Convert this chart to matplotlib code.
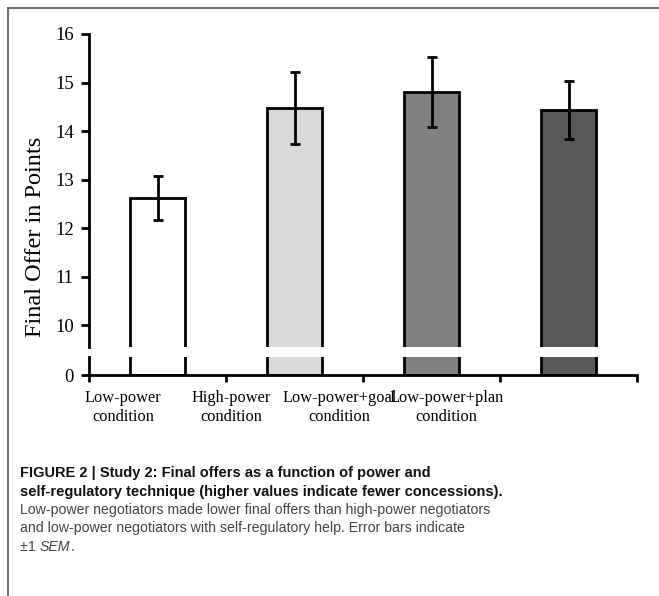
import matplotlib.pyplot as plt
from matplotlib.lines import Line2D
from matplotlib.transforms import blended_transform_factory

conditions = ["Low-power\ncondition", "High-power\ncondition",
              "Low-power+goal\ncondition", "Low-power+plan\ncondition"]
means = [12.62, 14.48, 14.80, 14.43]
sems = [0.45, 0.74, 0.72, 0.60]
colors = ["white", "#d9d9d9", "#808080", "#595959"]
label_x = [-0.25, 0.54, 1.33, 2.11]
top_ticks = [10, 11, 12, 13, 14, 15, 16]

W, H = 659, 596
fig = plt.figure(figsize=(W / 100, H / 100), dpi=100)
serif = "Liberation Serif"
sans = "Liberation Sans"
LW = 2.0


def box(l, t, r, b):
    return [l / W, 1 - b / H, (r - l) / W, (b - t) / H]


ax = fig.add_axes(box(89, 34, 637, 347))
ax2 = fig.add_axes(box(89, 357, 637, 375))
x = list(range(len(means)))

for a in (ax, ax2):
    a.bar(x, means, width=0.4, color=colors, edgecolor="black", linewidth=LW, zorder=2)
    a.set_xlim(-0.5, 3.5)
    for s in ("top", "right"):
        a.spines[s].set_visible(False)
    a.spines["left"].set_linewidth(LW)
    a.tick_params(axis="y", direction="out", length=6, width=LW, labelsize=13.5, pad=5)

ax.errorbar(x, means, yerr=sems, fmt="none", ecolor="black", elinewidth=LW,
            capsize=3.8, capthick=LW, zorder=3)
ax.set_ylim(16 - (347 - 34) / 48.5, 16)
ax.set_yticks(top_ticks)
ax.set_yticklabels([str(t) for t in top_ticks], fontfamily=serif, fontsize=13.5)
ax.spines["bottom"].set_visible(False)
ax.set_xticks([])

ax2.set_ylim(0, 18 / 48.5)
ax2.set_yticks([0])
ax2.set_yticklabels(["0"], fontfamily=serif, fontsize=13.5)
ax2.spines["bottom"].set_linewidth(LW)
ax2.set_xticks([-0.5, 0.5, 1.5, 2.5, 3.5])
ax2.set_xticklabels([])
ax2.tick_params(axis="x", direction="out", length=5, width=LW)

tr = blended_transform_factory(ax2.transData, fig.transFigure)
for lx, lab in zip(label_x, conditions):
    ax2.text(lx, 1 - 407.5 / H, lab, ha="center", va="center", fontfamily=serif,
             fontsize=11.8, linespacing=1.2, transform=tr)

fig.text(36 / W, 1 - 237 / H, "Final Offer in Points", rotation=90, ha="center",
         va="center", fontfamily=serif, fontsize=17.5)

# figure frame
fig.add_artist(Line2D([8 / W, 1], [1 - 8 / H, 1 - 8 / H], color="#555555", lw=1.2))
fig.add_artist(Line2D([8 / W, 8 / W], [0, 1 - 8 / H], color="#555555", lw=1.2))

# caption
cap_x = 20 / W
fs = 10.2
fig.text(cap_x, 1 - 473 / H, "FIGURE 2 | Study 2: Final offers as a function of power and",
         fontfamily=sans, fontweight="bold", fontsize=10.5, color="#111111", va="center")
fig.text(cap_x, 1 - 492 / H,
         "self-regulatory technique (higher values indicate fewer concessions).",
         fontfamily=sans, fontweight="bold", fontsize=10.5, color="#111111", va="center")
fig.text(cap_x, 1 - 510 / H,
         "Low-power negotiators made lower final offers than high-power negotiators",
         fontfamily=sans, fontsize=fs, color="#444444", va="center")
fig.text(cap_x, 1 - 528 / H,
         "and low-power negotiators with self-regulatory help. Error bars indicate",
         fontfamily=sans, fontsize=fs, color="#444444", va="center")
t1 = fig.text(cap_x, 1 - 547 / H, "\u00b11 ", fontfamily=sans, fontsize=fs,
              color="#444444", va="center")
fig.canvas.draw()
r = fig.canvas.get_renderer()
bb = t1.get_window_extent(r)
t2 = fig.text(bb.x1 / W, 1 - 547 / H, "SEM", fontfamily=sans, fontstyle="italic",
              fontsize=fs, color="#444444", va="center")
bb2 = t2.get_window_extent(r)
fig.text(bb2.x1 / W, 1 - 547 / H, ".", fontfamily=sans, fontsize=fs,
         color="#444444", va="center")

fig.savefig("out.png", dpi=100)
